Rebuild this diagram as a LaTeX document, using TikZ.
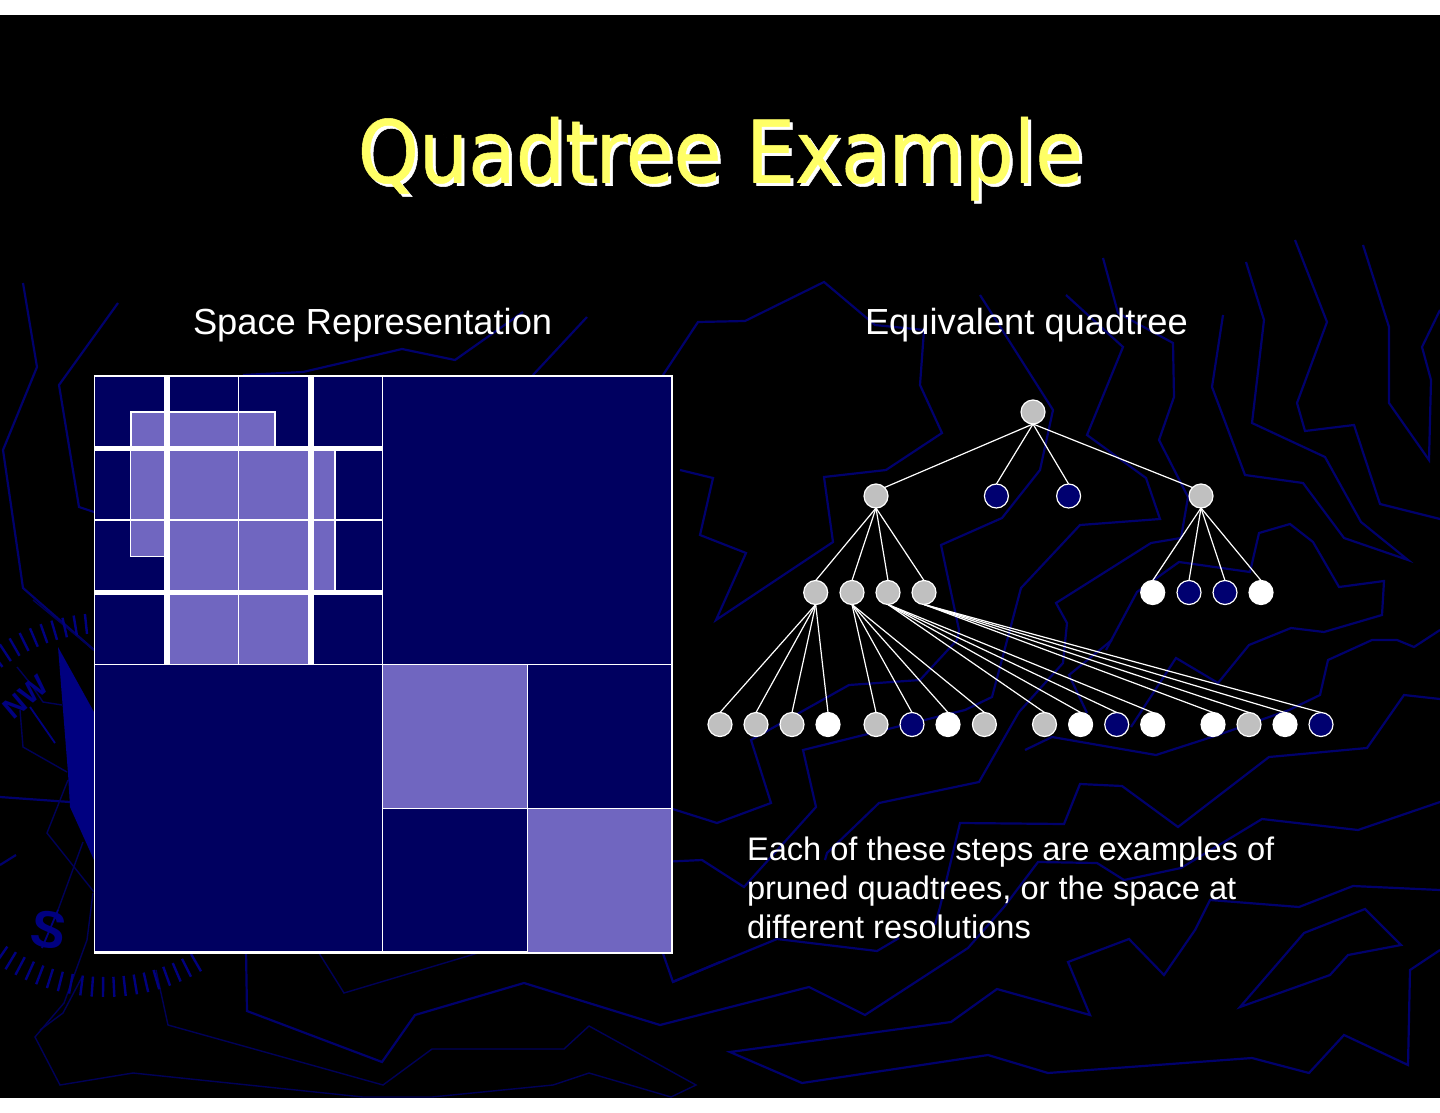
\documentclass[tikz,border=0pt]{standalone}
\usepackage{fontspec}
\setmainfont{Liberation Sans}
\newfontfamily\titlefont[FakeBold=0.6]{DejaVu Sans Condensed}
\definecolor{bgline}{HTML}{00006C}
\definecolor{bgfaint}{HTML}{000058}
\definecolor{compass}{HTML}{000080}
\definecolor{cellnavy}{HTML}{000060}
\definecolor{celllight}{HTML}{7066C0}
\definecolor{nodenavy}{HTML}{000070}
\definecolor{nodegray}{HTML}{C0C0C0}
\definecolor{titleyellow}{HTML}{FFFF66}
\tikzset{
  bgl/.style={draw=bgline,line width=1.1pt,line join=miter},
  bgf/.style={draw=bgfaint,line width=0.7pt,line join=miter},
  cmp/.style={draw=compass,line width=0.9pt},
  thin white/.style={draw=white,line width=0.7pt},
  thick white/.style={draw=white,line width=3pt},
  qn/.style={circle,inner sep=0pt,outer sep=0pt,minimum size=12pt,draw=white,line width=0.6pt},
  gn/.style={qn,fill=nodegray},
  wn/.style={qn,fill=white},
  bn/.style={qn,fill=nodenavy},
  edge/.style={draw=white,line width=0.6pt},
  label/.style={text=white,font=\fontsize{18.15}{22}\selectfont,anchor=base west,inner sep=0pt,outer sep=0pt}
}
\begin{document}
\begin{tikzpicture}[x=0.5pt,y=-0.5pt]
\useasboundingbox (0,0) rectangle (1440,1113);
\fill[white] (0,0) rectangle (1440,1113);
\fill[black] (0,15) rectangle (1440,1098);
\begin{scope}
\clip (0,15) rectangle (1440,1098);
% upper-right contour lines
\draw[bgl] (663,375)--(698,322)--(745,321)--(824,282)--(875,325)--(924,330)--(920,385)--(942,433)--(886,470)--(824,477)--(833,542)--(716,620)--(746,553)--(700,535)--(713,478)--(680,470);
\draw[bgl] (980,295)--(1053,410)--(1040,470)--(1002,518)--(941,545)--(959,630)--(957,640)--(920,680)--(849,685)--(751,740)--(771,803)--(717,823)--(660,805);
\draw[bgl] (1066,295)--(1123,347)--(1087,435)--(1146,478)--(1160,519)--(1080,525)--(1021,588)--(992,697)--(965,710)--(803,750)--(816,807)--(744,887)--(702,860)--(660,862);
\draw[bgl] (1103,258)--(1118,313)--(1173,343)--(1174,397)--(1159,440)--(1188,497)--(1181,538)--(1151,543)--(1056,603)--(1067,623)--(1063,663)--(1019,712)--(979,782)--(879,803)--(827,853)--(825,860);
\draw[bgl] (1223,315)--(1212,387)--(1245,475)--(1303,483)--(1344,538)--(1408,560)--(1361,522)--(1325,457)--(1252,423)--(1264,320)--(1246,262);
\draw[bgl] (1295,240)--(1327,322)--(1297,403)--(1305,431)--(1354,425)--(1380,504)--(1440,519);
\draw[bgl] (1363,245)--(1389,327)--(1389,403)--(1429,460)--(1431,380)--(1422,347)--(1440,310);
\draw[bgl] (1106,650)--(1137,592)--(1179,562)--(1250,572)--(1259,533)--(1290,524)--(1313,542)--(1339,587)--(1384,581)--(1382,615)--(1324,632)--(1291,628)--(1249,645)--(1218,683)--(1176,658)--(1131,727);
\draw[bgl] (1112,640)--(1069,675)--(1087,713);
\draw[bgl] (1025,750)--(1052,737)--(1156,755)--(1218,735)--(1289,710)--(1320,695)--(1328,660)--(1372,640)--(1397,640)--(1414,647)--(1440,630);
\draw[bgl] (1440,699)--(1404,695)--(1367,748)--(1269,757)--(1178,827)--(1122,786)--(1080,784)--(1064,824)--(960,823)--(940,907)--(935,925);
\draw[bgl] (1440,802)--(1358,830)--(1262,819)--(1181,868)--(1124,880)--(1097,863)--(1038,862)--(1004,907)--(968,948)--(865,1015)--(809,987)--(660,1025)--(524,983)--(415,1015)--(382,1062)--(247,1011)--(246,950);
\draw[bgl] (1440,890)--(1353,886)--(1299,907)--(1210,900)--(1195,930)--(1164,975)--(1129,939)--(1068,962)--(1090,1015)--(997,989)--(951,1022)--(730,1052)--(802,1083)--(988,1055)--(1048,1073)--(1252,1058)--(1309,1073)--(1344,1035)--(1408,1065)--(1410,970)--(1440,950);
\draw[bgl] (1240,1007)--(1330,975)--(1348,955)--(1401,945)--(1365,909)--(1304,933)--(1272,970)--cycle;
\draw[bgl] (720,962)--(673,982)--(660,945);
\draw[bgl] (672,982)--(777,939)--(877,951)--(899,938);
% top-left lines
\draw[bgl] (23,283)--(37,367)--(3,450)--(23,588)--(94,650);
\draw[bgl] (118,303)--(59,385)--(79,507)--(94,512);
\draw[bgl] (243,375)--(303,372)--(402,349)--(455,360)--(523,312);
\draw[bgl] (587,317)--(533,375);
% faint bottom-left lines
\draw[bgf] (319,953)--(344,993)--(478,953);
\draw[bgf] (156,970)--(168,1025)--(383,1085)--(432,1049)--(564,1049)--(589,1026)--(696,1085)--(671,1097)--(589,1073)--(553,1085)--(432,1097)--(363,1097)--(133,1073)--(60,1085)--(35,1037)--(64,1003)--(87,940)--(93,893);
% compass lines
\draw[bgl] (0,797)--(70,802);
\draw[bgl] (0,865)--(16,855);
\draw[bgf] (33,600)--(94,650);
\draw[bgf] (17,667)--(30,683)--(43,702)--(62,705);
\draw[bgf] (20,710)--(23,747)--(67,772);
\draw[cmp] (30,707)--(55,743);
\draw[bgf] (68,780)--(47,833)--(94,892);
\draw[bgf] (83,842)--(58,910);
\draw[bgf] (82,977)--(63,1013)--(40,1030);
% compass pointer
\fill[compass] (58,647)--(94,712)--(94,860)--(70,807)--(68,773)--cycle;
% compass ticks
\foreach \a [count=\i] in {96,99.4,...,300}{
  \pgfmathsetmacro{\rout}{\ifnum\numexpr\i/5*5\relax=\i 209\else 192\fi}
  \draw[cmp,line width=1.2pt] ({105+172*cos(\a)},{805-172*sin(\a)})--({105+\rout*cos(\a)},{805-\rout*sin(\a)});
}
\node[text=compass,font=\bfseries\fontsize{14.5}{15}\selectfont,rotate=40,inner sep=0pt] (nwmark) at (26,697) {NW};
\node[text=compass,font=\bfseries\fontsize{26}{26}\selectfont,rotate=-10,inner sep=0pt] (smark) at (49,930) {S};
\draw[cmp] (58,910)--(42,948);
\end{scope}
% quadtree cells
\fill[cellnavy] (94.5,376) rectangle (672,953);
\fill[celllight] (130.7,412) rectangle (275,446);
\fill[celllight] (130.7,451) rectangle (164,556.7);
\fill[celllight] (170,451) rectangle (334.7,590);
\fill[celllight] (170,595) rectangle (308,664);
\fill[celllight] (383,664) rectangle (527.5,808.5);
\fill[celllight] (527.5,808.5) rectangle (672,953);
% light region outline
\draw[thin white,line width=1pt] (130.7,446)--(130.7,412)--(275,412)--(275,446);
\draw[thin white] (130.7,451)--(130.7,556.7)--(164,556.7);
\draw[thin white,line width=0.9pt] (334.7,451)--(334.7,590);
% thin grid
\draw[thin white,line width=0.8pt] (94.5,376) rectangle (672,953);
\draw[thin white] (238.5,376)--(238.5,446) (238.5,451)--(238.5,664);
\draw[thin white] (94.5,520)--(383,520);
\draw[thin white] (94.5,664.3)--(672,664.3);
\draw[thin white] (382.7,376)--(382.7,953);
\draw[thin white] (527.5,664)--(527.5,953);
\draw[thin white] (383,808.5)--(672,808.5);
% thick bands
\draw[thick white] (167,376)--(167,664);
\draw[thick white] (311,376)--(311,664);
\draw[thick white,line width=2.4pt] (94.5,448.5)--(383,448.5);
\draw[thick white,line width=2.4pt] (94.5,592.5)--(383,592.5);
\draw[white,line width=1.3pt] (94.5,952.5)--(527,952.5);
% title
\node[text=white,font=\titlefont\fontsize{43.2}{50}\selectfont,inner sep=0pt,anchor=base] (titleshadow) at (723.5,185.5) {Quadtree Example};
\node[text=titleyellow,font=\titlefont\fontsize{43.2}{50}\selectfont,inner sep=0pt,anchor=base] (title) at (720.5,182.5) {Quadtree Example};
% headings
\node[label] (lefthead) at (193,334) {Space Representation};
\node[label] (righthead) at (865,334) {Equivalent quadtree};
\node[label,font=\fontsize{16.3}{19.5}\selectfont,align=left,anchor=north west] (caption) at (747,837) {Each of these steps are examples of\\pruned quadtrees, or the space at\\different resolutions};
% tree nodes
\node[gn] (r) at (1033,412) {};
\node[gn] (a) at (876,496) {};
\node[bn] (b) at (996.4,496) {};
\node[bn] (c) at (1068.6,496) {};
\node[gn] (d) at (1201,496) {};
\node[gn] (a1) at (815.7,592.5) {};
\node[gn] (a2) at (852,592.5) {};
\node[gn] (a3) at (888,592.5) {};
\node[gn] (a4) at (924,592.5) {};
\node[wn] (d1) at (1152.7,592.5) {};
\node[bn] (d2) at (1189,592.5) {};
\node[bn] (d3) at (1225,592.5) {};
\node[wn] (d4) at (1261,592.5) {};
\node[gn] (p1) at (720,724.5) {};
\node[gn] (p2) at (756,724.5) {};
\node[gn] (p3) at (792,724.5) {};
\node[wn] (p4) at (828,724.5) {};
\node[gn] (q1) at (876,724.5) {};
\node[bn] (q2) at (912,724.5) {};
\node[wn] (q3) at (948,724.5) {};
\node[gn] (q4) at (984.4,724.5) {};
\node[gn] (s1) at (1044.5,724.5) {};
\node[wn] (s2) at (1080.6,724.5) {};
\node[bn] (s3) at (1116.7,724.5) {};
\node[wn] (s4) at (1152.7,724.5) {};
\node[wn] (t1) at (1213,724.5) {};
\node[gn] (t2) at (1249,724.5) {};
\node[wn] (t3) at (1285,724.5) {};
\node[bn] (t4) at (1321,724.5) {};
% tree edges
\draw[edge] (r.south)--(a.45);
\draw[edge] (r.south)--(b.north);
\draw[edge] (r.south)--(c.north);
\draw[edge] (r.south)--(d.135);
\foreach \c in {a1,a2,a3,a4} \draw[edge] (a.south)--(\c.north);
\foreach \c in {d1,d2,d3,d4} \draw[edge] (d.south)--(\c.north);
\foreach \c in {p1,p2,p3,p4} \draw[edge] (a1.south)--(\c.north);
\foreach \c in {q1,q2,q3,q4} \draw[edge] (a2.south)--(\c.north);
\foreach \c in {s1,s2,s3,s4} \draw[edge] (a3.south)--(\c.north);
\foreach \c in {t1,t2,t3,t4} \draw[edge] (a4.south)--(\c.north);
\end{tikzpicture}
\end{document}
